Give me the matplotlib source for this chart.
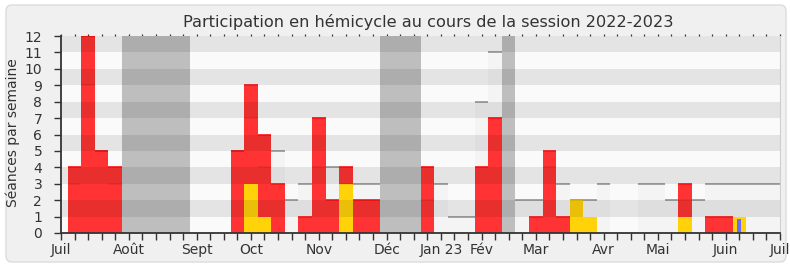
import numpy as np
import matplotlib.pyplot as plt
from matplotlib.patches import FancyBboxPatch
from matplotlib.transforms import IdentityTransform

# semaines de la session (0 = fin juin 2022)
weeks = np.arange(54)
red_weeks = [1, 2, 3, 4, 13, 14, 15, 16, 18, 19, 20, 21, 22, 23, 27, 31, 32, 35, 36, 37, 46, 48, 49]
red_vals = [4, 12, 5, 4, 5, 9, 6, 3, 1, 7, 2, 4, 2, 2, 4, 4, 7, 1, 5, 1, 3, 1, 1]
yellow_weeks = [14, 15, 21, 38, 39, 46, 50]
yellow_vals = [3, 1, 3, 2, 1, 1, 1]
blue_weeks = [50]
blue_vals = [0.85]
# mediane des deputes par semaine
median = [0, 3, 9, 5, 3, 0, 0, 0, 0, 0, 0, 0, 0, 5, 7, 4, 5, 2, 3, 4, 4, 3, 3, 3, 0, 0, 0,
          2, 3, 1, 1, 8, 11, 0, 2, 2, 4, 3, 2, 2, 3, 0, 0, 3, 3, 2, 2, 2, 3, 3, 3, 3, 3, 3]
vacances = [(4.5, 9.5), (23.5, 26.5), (32.5, 33.5)]
month_pos = [0, 5, 10, 14, 19, 24, 28, 31, 35, 40, 44, 49, 53]
month_labels = ['Juil', 'Août', 'Sept', 'Oct', 'Nov', 'Déc', 'Jan 23', 'Fév', 'Mar', 'Avr', 'Mai', 'Juin', 'Juil']

txt = '#333333'
fig = plt.figure(figsize=(7.9, 2.67), dpi=100, facecolor='white')
frame = FancyBboxPatch((6, 5), 780, 257, boxstyle='round,pad=0,rounding_size=6',
                       transform=IdentityTransform(), facecolor='#f0f0f0', edgecolor='#dcdcdc', lw=1,
                       zorder=-10)
fig.patches.append(frame)

ax = fig.add_axes([61/790, 34/267, 719/790, 197/267])
ax.set_facecolor('#fafafa')

for a, b in vacances:
    ax.axvspan(a, b, color='#bebebe', lw=0, zorder=0.5)

med = np.array(median, dtype=float)
ax.bar(weeks, med, width=1, color='black', alpha=0.025, lw=0, zorder=1)
for w, m in zip(weeks, med):
    if m > 0:
        ax.hlines(m, w - 0.5, w + 0.5, color='#a9a9a9', lw=1.3, zorder=1.2)

ax.bar(red_weeks, red_vals, width=1, color='#ff3333', lw=0, zorder=2)
ax.hlines(red_vals, np.array(red_weeks) - 0.5, np.array(red_weeks) + 0.5, color='#ff1010', lw=1.2, zorder=2.1)
ax.bar(yellow_weeks, yellow_vals, width=1, color='#ffd20a', lw=0, zorder=3)
ax.bar(blue_weeks, blue_vals, width=0.27, color='#6b6bff', lw=0, zorder=4)

# bandes horizontales
for k in range(1, 12, 2):
    ax.axhspan(k, k + 1, color='black', alpha=0.085, lw=0, zorder=5)
for w, m in zip(weeks, med):
    if m > 0:
        ax.hlines(m, w - 0.5, w + 0.5, color='black', alpha=0.08, lw=1.2, zorder=6)

ax.set_xlim(0, 53)
ax.set_ylim(0, 12)
ax.set_yticks(range(13))
ax.set_xticks(month_pos)
ax.set_xticklabels(month_labels)
ax.set_xticks(weeks, minor=True)
ax.tick_params(axis='x', which='both', length=5, width=1, color=txt, labelsize=10, labelcolor=txt, pad=2)
ax.tick_params(axis='y', length=5, width=1, color=txt, labelsize=10, labelcolor=txt, pad=8.5)

top = ax.secondary_xaxis('top')
top.set_xticks(weeks)
top.tick_params(length=1.2, width=0.9, color='#333333', labelsize=0, labeltop=False)
top.spines['top'].set_visible(False)

ax.spines['top'].set_visible(False)
ax.spines['right'].set_color('#d0d0d0')
for s in ['left', 'bottom']:
    ax.spines[s].set_color(txt)
    ax.spines[s].set_linewidth(1.3)
    ax.spines[s].set_zorder(10)

fig.text(428/790, 1 - 26.5/267, 'Participation en hémicycle au cours de la session 2022-2023',
         ha='center', va='baseline', fontsize=11.6, color=txt)
fig.text(12.5/790, 1 - 132.5/267, 'Séances par semaine', rotation=90,
         ha='center', va='center', fontsize=10, color=txt)

fig.savefig('out.png', dpi=100, facecolor=fig.get_facecolor())
